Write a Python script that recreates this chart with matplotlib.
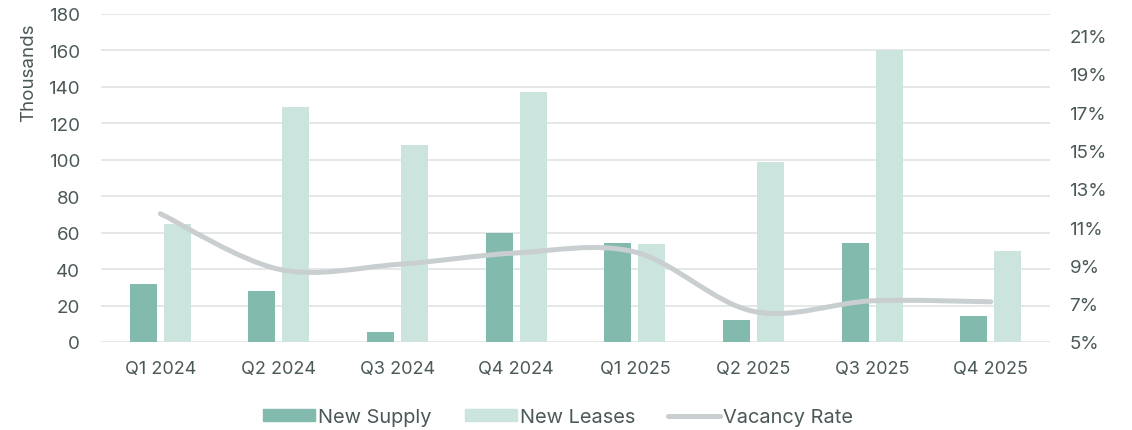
import matplotlib
matplotlib.use("Agg")
import matplotlib.pyplot as plt
from matplotlib.path import Path
from matplotlib.patches import PathPatch, Patch
from matplotlib.lines import Line2D
import numpy as np

quarters = ['Q1 2024', 'Q2 2024', 'Q3 2024', 'Q4 2024',
            'Q1 2025', 'Q2 2025', 'Q3 2025', 'Q4 2025']
new_supply = [32, 28, 5.5, 60, 54.5, 12, 54.5, 14]      # thousands
new_leases = [65, 129, 108, 137, 54, 99, 160, 50]       # thousands
vacancy = [11.7, 8.8, 9.05, 9.65, 9.7, 6.6, 7.15, 7.1]  # percent

supply_col = '#82BAAD'
lease_col = '#CBE4DE'
line_col = '#C9CED0'
grid_col = '#E2E7E5'
text_col = '#4B5858'

plt.rcParams['font.family'] = ['Inter', 'DejaVu Sans']
plt.rcParams['font.size'] = 13

fig = plt.figure(figsize=(11.32, 4.31), dpi=100)
ax = fig.add_axes([0.0892, 0.2042, 0.8384, 0.761])
ax2 = ax.twinx()

x = np.arange(len(quarters))
w = 0.228
off = 0.143
ax.bar(x - off, new_supply, width=w, color=supply_col, zorder=2)
ax.bar(x + off, new_leases, width=w, color=lease_col, zorder=2)

ax.set_xlim(-0.5, len(quarters) - 0.5)
ax.set_ylim(0, 180)
ax.set_yticks(range(0, 181, 20))
ax.set_xticks(x)
ax.set_xticklabels(quarters)
ax.grid(axis='y', color=grid_col, linewidth=1.3)
ax.set_axisbelow(True)
for a in (ax, ax2):
    for s in a.spines.values():
        s.set_visible(False)
ax.tick_params(axis='both', length=0, colors=text_col, labelsize=13)
ax.tick_params(axis='y', labelsize=13.5, pad=15)
ax.tick_params(axis='x', pad=13)
ax.set_ylabel('Thousands', color=text_col, fontsize=13.5)
ax.yaxis.set_label_coords(-0.0675, 0.823)

# smoothed vacancy line (bezier segments through the quarterly values)
pts = list(zip(x.astype(float), vacancy))
verts = [pts[0]]
codes = [Path.MOVETO]
n = len(pts)
for i in range(n - 1):
    p0 = pts[max(i - 1, 0)]
    p1 = pts[i]
    p2 = pts[i + 1]
    p3 = pts[min(i + 2, n - 1)]
    c1 = (p1[0] + (p2[0] - p0[0]) / 6, p1[1] + (p2[1] - p0[1]) / 6)
    c2 = (p2[0] - (p3[0] - p1[0]) / 6, p2[1] - (p3[1] - p1[1]) / 6)
    verts += [c1, c2, p2]
    codes += [Path.CURVE4] * 3
ax2.add_patch(PathPatch(Path(verts, codes), facecolor='none', edgecolor=line_col,
                        linewidth=3.6, capstyle='round', joinstyle='round', zorder=3))

ax2.set_ylim(5, 22.13)
ax2.set_yticks(range(5, 22, 2))
ax2.set_yticklabels([f'{v}%' for v in range(5, 22, 2)])
ax2.tick_params(axis='y', length=0, colors=text_col, labelsize=13.5, pad=14)

handles = [Patch(color=supply_col, label='New Supply'),
           Patch(color=lease_col, label='New Leases'),
           Line2D([], [], color=line_col, linewidth=3.6, solid_capstyle='round',
                  label='Vacancy Rate')]
leg = fig.legend(handles=handles, loc='center', bbox_to_anchor=(0.493, 0.030),
                 ncol=3, frameon=False, fontsize=14.4, handlelength=2.6,
                 handleheight=0.55, handletextpad=0.15, columnspacing=1.65,
                 borderpad=0)
for t in leg.get_texts():
    t.set_color(text_col)

fig.savefig('out.png', dpi=100)
